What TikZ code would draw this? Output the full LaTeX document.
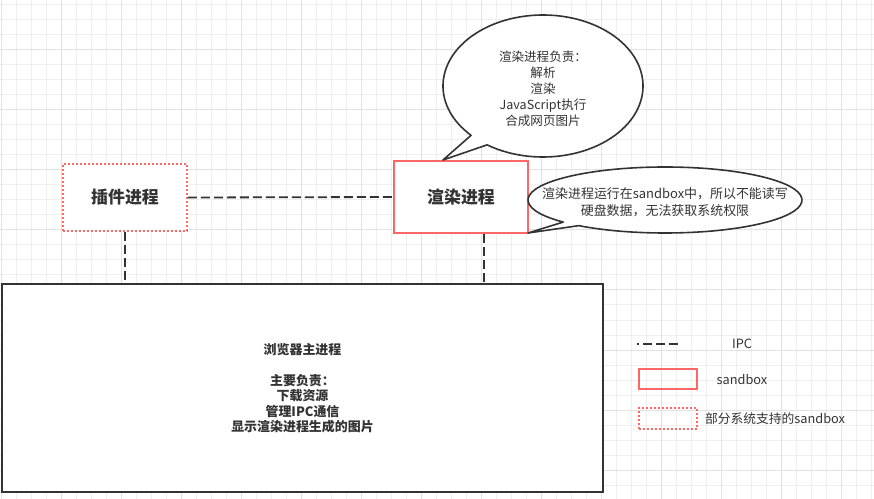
\documentclass[tikz,border=0pt]{standalone}
\usepackage{fontspec}
\setmainfont{Noto Sans CJK SC}
\definecolor{sbred}{HTML}{FF6666}
\definecolor{ink}{HTML}{333333}
\definecolor{gridminor}{HTML}{EFEFEF}
\definecolor{gridmajor}{HTML}{E2E2E2}
\begin{document}
\begin{tikzpicture}[x=1bp,y=-1bp,
  gminor/.style={gridminor,line width=1bp},
  gmajor/.style={gridmajor,line width=1bp},
  ipc/.style={ink,line width=1.8bp,dash pattern=on 9bp off 4bp},
  mainbox/.style={draw=ink,fill=white,line width=2bp,inner sep=0pt,align=center,
    font=\fontsize{13}{15.5}\selectfont\bfseries,text=ink},
  sandboxbox/.style={draw=sbred,fill=white,line width=1.6bp,inner sep=0pt,align=center,
    font=\fontsize{17}{20}\selectfont\bfseries,text=ink},
  partbox/.style={draw=sbred,fill=white,line width=1.6bp,dash pattern=on 2bp off 2bp,
    inner sep=0pt,align=center,font=\fontsize{17}{20}\selectfont\bfseries,text=ink},
  callout/.style={draw=ink,fill=white,line width=1.6bp,line join=round},
  notetext/.style={align=center,font=\fontsize{12.6}{16}\selectfont,text=ink,inner sep=0pt},
  legtext/.style={font=\fontsize{12.8}{14}\selectfont,text=ink,inner sep=0pt}
]
\useasboundingbox (0,0) rectangle (874,499);
\fill[white] (0,0) rectangle (874,499);
% grid
\foreach \x in {1,16,...,871} \draw[gminor] (\x,0) -- (\x,499);
\foreach \y in {5,20,...,495} \draw[gminor] (0,\y) -- (874,\y);
\foreach \x in {1,61,...,841} \draw[gmajor] (\x,0) -- (\x,499);
\foreach \y in {50,110,...,470} \draw[gmajor] (0,\y) -- (874,\y);

% main process
\node[mainbox,minimum width=601bp,minimum height=208bp] (main) at (302.5,388)
  {浏览器主进程\\[15.5bp]主要负责：\\下载资源\\管理IPC通信\\显示渲染进程生成的图片};

% plugin process
\node[partbox,minimum width=124bp,minimum height=67bp] (plugin) at (125,197.5) {插件进程};
% render process
\node[sandboxbox,minimum width=134bp,minimum height=72bp] (render) at (461,197) {渲染进程};

% IPC connectors
\draw[ipc] (plugin.east) -- (render.west);
\draw[ipc] (plugin.south) -- (plugin.south |- main.north);
\coordinate (rs) at ([xshift=23bp]render.south);
\draw[ipc] (rs) -- (rs |- main.north);

% top callout
\coordinate (tip1) at (443,160);
\draw[callout] (tip1) -- ([shift={(136:100 and 71)}]543,86)
  arc[start angle=136,end angle=484,x radius=100,y radius=71] -- cycle;
\node[notetext] (note1) at (543,89)
  {渲染进程负责：\\解析\\渲染\\JavaScript执行\\合成网页图片};

% right callout
\coordinate (tip2) at (528,233);
\draw[callout] (tip2) -- ([shift={(138:137 and 33)}]665,200)
  arc[start angle=138,end angle=489,x radius=137,y radius=33] -- cycle;
\node[notetext,font=\fontsize{13}{17.5}\selectfont] (note2) at (665,202)
  {渲染进程运行在sandbox中，所以不能读写\\硬盘数据，无法获取系统权限};

% legend
\coordinate (l1) at (637,344);
\coordinate (l2) at (681,344);
\draw[ipc,dash pattern=on 9bp off 4bp,dash phase=7bp] (l1) -- (l2);
\node[legtext] (lipc) at (742,344) {IPC};
\node[draw=sbred,line width=1.6bp,minimum width=58bp,minimum height=20bp,inner sep=0pt] (lsb) at (668,379) {};
\node[legtext] (lsbt) at (742,380) {sandbox};
\node[draw=sbred,line width=1.6bp,dash pattern=on 2bp off 2bp,minimum width=58bp,minimum height=21bp,inner sep=0pt] (lpart) at (668,418.5) {};
\node[legtext,anchor=west] (lpartt) at (705,419) {部分系统支持的sandbox};
\end{tikzpicture}
\end{document}
